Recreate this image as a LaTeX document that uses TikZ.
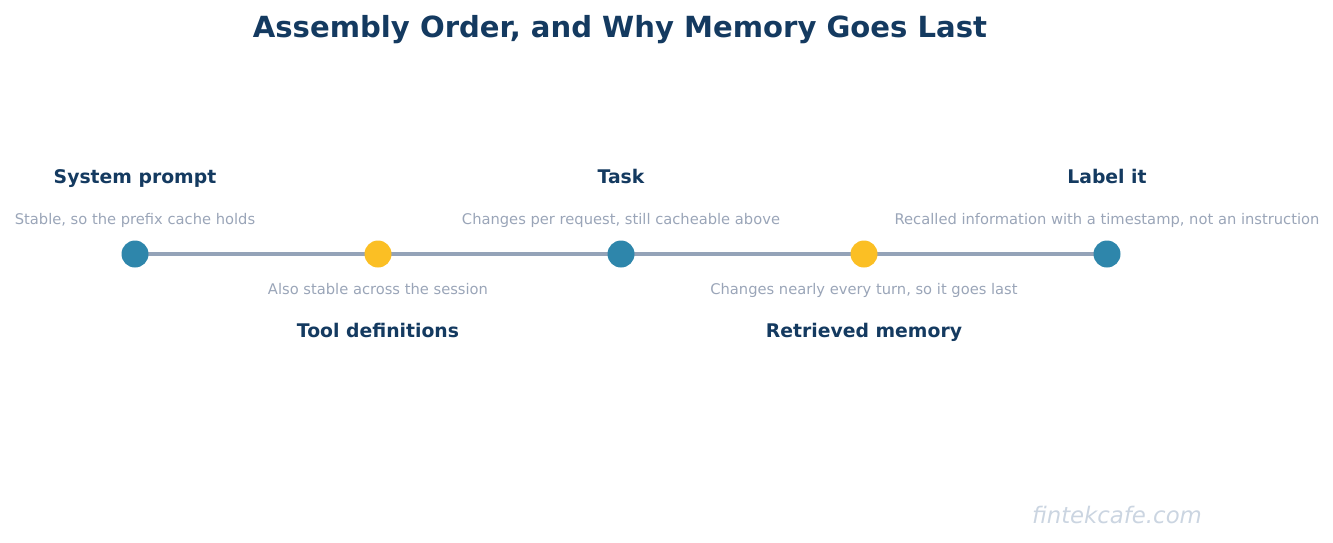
\documentclass[tikz,border=0pt]{standalone}
\usepackage{fontspec}
\setmainfont{DejaVu Sans}
\definecolor{navy}{HTML}{143A60}
\definecolor{stepblue}{HTML}{2E86AB}
\definecolor{stepgold}{HTML}{FBBF24}
\definecolor{railgray}{HTML}{94A3B8}
\definecolor{notegray}{HTML}{9AA5B8}
\definecolor{markgray}{HTML}{CBD5E1}
\tikzset{
  dot/.style={circle,inner sep=0pt,minimum size=27pt},
  head/.style={text=navy,text height=0.75em,text depth=0.22em,font=\bfseries\fontsize{18.8}{20}\selectfont},
  note/.style={text=notegray,text height=0.75em,text depth=0.22em,font=\fontsize{14.7}{16}\selectfont},
}
\begin{document}
\begin{tikzpicture}[x=1pt,y=-1pt]
                        \useasboundingbox (0,0) rectangle (1333,542);
                        \node[text=navy,font=\bfseries\fontsize{29.1}{32}\selectfont] (title) at (620,30) {Assembly Order, and Why Memory Goes Last};
                        \coordinate (first) at (135,254);
                        \coordinate (last) at (1107,254);
                        \draw[railgray,line width=4pt] (first) -- (last);
                        \node[dot,fill=stepblue] (sys) at (first) {};
                        \node[dot,fill=stepgold] (tool) at (378,254) {};
                        \node[dot,fill=stepblue] (task) at (621,254) {};
                        \node[dot,fill=stepgold] (mem) at (864,254) {};
                        \node[dot,fill=stepblue] (label) at (last) {};
                        \node[head] at (135,181) {System prompt};
                        \node[note] at (135,222) {Stable, so the prefix cache holds};
                        \node[note] at (378,292) {Also stable across the session};
                        \node[head] at (378,335) {Tool definitions};
                        \node[head] at (621,181) {Task};
                        \node[note] at (621,222) {Changes per request, still cacheable above};
                        \node[note] at (864,292) {Changes nearly every turn, so it goes last};
                        \node[head] at (864,335) {Retrieved memory};
                        \node[head] at (1107,181) {Label it};
                        \node[note] at (1107,222) {Recalled information with a timestamp, not an instruction};
                        \node[text=markgray,font=\itshape\fontsize{22.8}{24}\selectfont] (mark) at (1117,515) {fintekcafe.com};
\end{tikzpicture}
\end{document}
